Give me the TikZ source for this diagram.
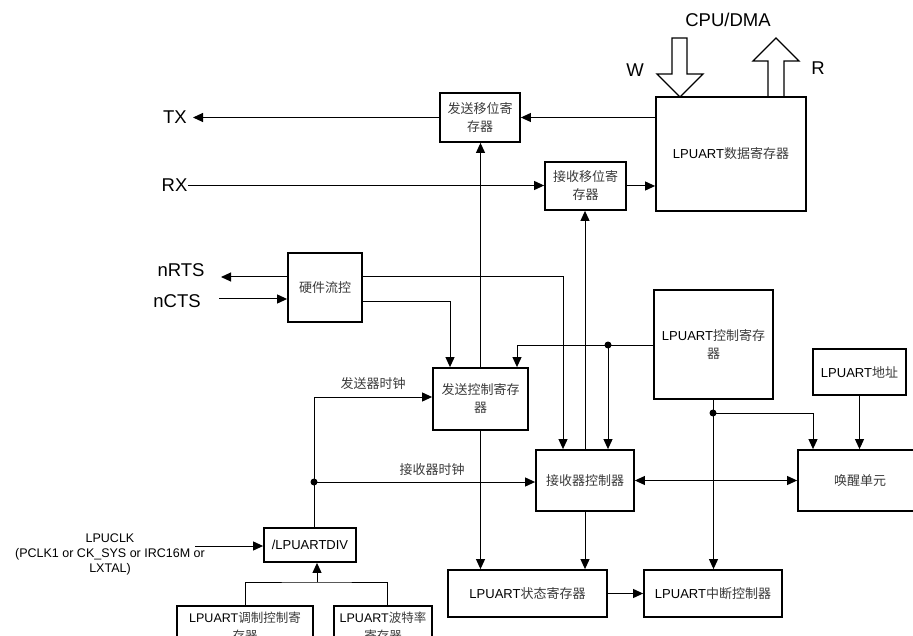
\documentclass[tikz,border=0pt]{standalone}
\usepackage{fontspec}
\setmainfont{Liberation Sans}
\newfontfamily\cjk{Noto Sans CJK SC}
\usetikzlibrary{arrows.meta}
\definecolor{zhgray}{HTML}{3A3A3A}
\newcommand\zh[1]{{\cjk\color{zhgray}#1}}
\begin{document}
\begin{tikzpicture}[x=1pt,y=-1pt,
  blk/.style={draw, line width=1.8pt, inner sep=0pt, align=center, font=\fontsize{13}{18}\selectfont},
  lbl/.style={inner sep=0pt, align=center, font=\fontsize{13}{15}\selectfont},
  big/.style={inner sep=0pt, font=\fontsize{18.5}{20}\selectfont},
  conn/.style={line width=1pt},
  arr/.style={conn, -{Triangle[length=10pt,width=9pt]}},
  darr/.style={conn, {Triangle[length=10pt,width=9pt]}-{Triangle[length=10pt,width=9pt]}},
  jdot/.style={circle, fill, inner sep=0pt, minimum size=7pt},
  barrow/.style={line width=1.3pt, line join=miter},
]
\clip (0,0) rectangle (913,636);

% boxes
\node[blk, minimum width=80, minimum height=49] (txs) at (480,117.5) {\zh{发送移位寄}\\\zh{存器}};
\node[blk, minimum width=150, minimum height=114] (dr) at (731,154) {LPUART\zh{数据寄存器}};
\node[blk, minimum width=81, minimum height=48] (rxs) at (585.5,186) {\zh{接收移位寄}\\\zh{存器}};
\node[blk, minimum width=74, minimum height=69] (hfc) at (325,287.5) {\zh{硬件流控}};
\node[blk, minimum width=95, minimum height=62] (txc) at (480.5,399) {\zh{发送控制寄存}\\\zh{器}};
\node[blk, minimum width=98, minimum height=61] (rxc) at (585,480.5) {\zh{接收器控制器}};
\node[blk, minimum width=119, minimum height=109] (cr) at (713.5,344.5) {LPUART\zh{控制寄存}\\\zh{器}};
\node[blk, minimum width=93, minimum height=46] (addr) at (859.5,372) {LPUART\zh{地址}};
\node[blk, minimum width=124, minimum height=61] (wk) at (860,480.5) {\zh{唤醒单元}};
\node[blk, minimum width=159, minimum height=47] (sr) at (527.5,593.5) {LPUART\zh{状态寄存器}};
\node[blk, minimum width=138, minimum height=47] (ic) at (713,593.5) {LPUART\zh{中断控制器}};
\node[blk, minimum width=92, minimum height=34] (div) at (310,545) {/LPUARTDIV};
\node[blk, minimum width=136, minimum height=42, font=\fontsize{12.5}{18}\selectfont] (mod) at (245,627) {LPUART\zh{调制控制寄}\\\zh{存器}};
\node[blk, minimum width=98, minimum height=42, font=\fontsize{12.5}{18}\selectfont] (baud) at (383,627) {LPUART\zh{波特率}\\\zh{寄存器}};

% outer labels
\node[big] (tx) at (175,117.5) {TX};
\node[big] (rx) at (174.5,185.5) {RX};
\node[big] (nrts) at (181,270) {nRTS};
\node[big] (ncts) at (177,301) {nCTS};
\node[big] (cpu) at (728,20) {CPU/DMA};
\node[big] (wl) at (635,70) {W};
\node[big] (rl) at (818,68) {R};
\node[lbl, font=\fontsize{12.5}{15}\selectfont] (clk) at (110,554) {LPUCLK\\(PCLK1 or CK\_SYS or IRC16M or\\LXTAL)};
\node[lbl] (txclk) at (373,384) {\zh{发送器时钟}};
\node[lbl] (rxclk) at (432,470) {\zh{接收器时钟}};

% coordinates
\coordinate (txend) at (193,117.5);
\coordinate (rxbeg) at (188,185.5);
\coordinate (rtsend) at (221,277);
\coordinate (ctsbeg) at (219,299);
\coordinate (clkbeg) at (195,546);
\coordinate (j1) at (608,345);
\coordinate (j2) at (713,413);
\coordinate (j3) at (314,482);
\coordinate (j4) at (317,582);

% block arrows
\draw[barrow] (672,38) -- (687,38) -- (687,74) -- (703,74) -- (680,97) -- (657,74) -- (672,74) -- cycle;
\draw[barrow] (768,97) -- (768,61) -- (753,61) -- (776,38) -- (799,61) -- (784,61) -- (784,97);

% connectors
\draw[arr] (dr.west |- txs.east) -- (txs.east);
\draw[arr] (txs.west) -- (txend);
\draw[arr] (rxbeg) -- (rxbeg -| rxs.west);
\draw[arr] (rxs.east) -- (rxs.east -| dr.west);
\draw[arr] (hfc.west |- rtsend) -- (rtsend);
\draw[arr] (ctsbeg) -- (ctsbeg -| hfc.west);
\draw[arr] ([yshift=10.5pt]hfc.east) -| ([xshift=-22pt]rxc.north);
\draw[arr] ([yshift=-14.5pt]hfc.east) -| ([xshift=-30.5pt]txc.north);
\draw[arr] (txc.north) -- (txc.north |- txs.south);
\draw[arr] (rxc.north) -- (rxc.north |- rxs.south);
\draw[arr] (cr.west |- j1) -| ([xshift=36.5pt]txc.north);
\draw[arr] (j1) -- (j1 |- rxc.north);
\draw[arr] (cr.south) -- (cr.south |- ic.north);
\draw[arr] (j2) -| ([xshift=-47pt]wk.north);
\draw[arr] (addr.south) -- (addr.south |- wk.north);
\draw[darr] (rxc.east) -- (wk.west);
\draw[arr] (div.north -| j3) |- ([yshift=2pt]txc.west);
\draw[arr] (j3) -- (j3 -| rxc.west);
\draw[arr] (txc.south) -- (txc.south |- sr.north);
\draw[arr] (rxc.south) -- (rxc.south |- sr.north);
\draw[arr] (sr.east) -- (ic.west);
\draw[arr] (clkbeg) -- (clkbeg -| div.west);
\draw[conn] (mod.north) |- (j4) -| ([xshift=4pt]baud.north);
\draw[arr] (j4) -- (j4 |- div.south);

\node[jdot] at (j1) {};
\node[jdot] at (j2) {};
\node[jdot] at (j3) {};
\end{tikzpicture}
\end{document}
